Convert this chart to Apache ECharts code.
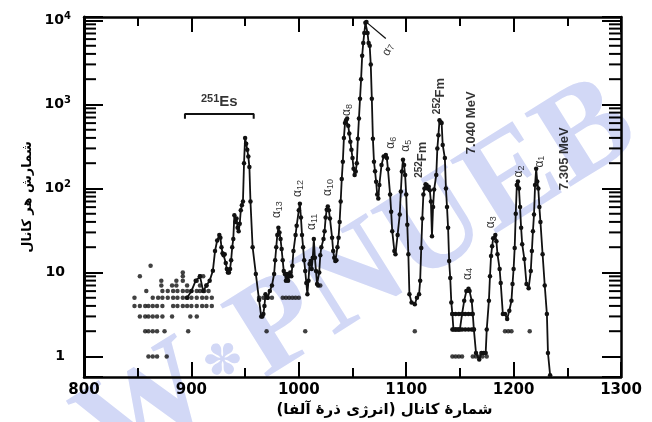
<!DOCTYPE html>
<html>
<head>
<meta charset="utf-8">
<script src="https://cdn.jsdelivr.net/npm/echarts@6/dist/echarts.min.js"></script>
<style>
  html, body { margin: 0; padding: 0; background: #fff; }
  #chart { width: 652px; height: 422px; }
</style>
</head>
<body>
<div id="chart"></div>
<script>
// Alpha spectrum: counts per channel (connected trace)
const spectrumChannels = [
  896, 900, 904, 908, 911, 914, 917, 920, 922, 924, 926, 927, 928, 929, 930, 931, 932, 933, 934, 935,
  936, 937, 938, 939, 940, 941, 942, 943, 944, 945, 946, 947, 948, 949, 950, 951, 952, 953, 954, 955,
  957, 960, 963, 965, 966, 967, 968, 969, 971, 973, 975, 977, 978, 979, 980, 981, 982, 983, 984, 985,
  986, 987, 988, 989, 990, 991, 992, 993, 994, 995, 997, 998, 1000, 1001, 1002, 1003, 1004, 1005, 1006, 1007,
  1008, 1009, 1010, 1011, 1012, 1013, 1014, 1015, 1016, 1017, 1018, 1019, 1020, 1021, 1023, 1024, 1025, 1026, 1027, 1028,
  1029, 1031, 1032, 1033, 1034, 1035, 1036, 1037, 1038, 1039, 1040, 1041, 1042, 1043, 1044, 1045, 1046, 1047, 1048, 1049,
  1050, 1051, 1052, 1053, 1054, 1055, 1056, 1057, 1058, 1059, 1060, 1061, 1062, 1063, 1064, 1065, 1066, 1067, 1068, 1069,
  1070, 1071, 1072, 1073, 1074, 1075, 1077, 1079, 1081, 1082, 1083, 1085, 1086, 1087, 1089, 1090, 1092, 1094, 1095, 1096,
  1097, 1098, 1099, 1100, 1101, 1102, 1103, 1105, 1108, 1110, 1112, 1113, 1114, 1115, 1116, 1117, 1118, 1119, 1120, 1121,
  1122, 1123, 1124, 1125, 1126, 1128, 1129, 1130, 1131, 1132, 1133, 1134, 1136, 1137, 1138, 1139, 1140, 1141, 1142, 1143,
  1144, 1146, 1148, 1150, 1152, 1154, 1156, 1158, 1159, 1161, 1162, 1163, 1165, 1168, 1170, 1172, 1174, 1175, 1177, 1178,
  1179, 1180, 1181, 1183, 1184, 1185, 1187, 1188, 1190, 1192, 1194, 1196, 1198, 1199, 1200, 1201, 1202, 1203, 1204, 1205,
  1206, 1207, 1208, 1210, 1212, 1214, 1216, 1217, 1218, 1219, 1220, 1221, 1222, 1223, 1224, 1225, 1227, 1229, 1231, 1232,
  1234
];
const spectrumCounts = [
  5, 6, 8, 9, 6, 7, 8, 10.5, 18, 24, 28, 26, 20, 17, 16, 16.5, 13, 11, 10, 10,
  11, 14, 20, 25, 48, 40, 44, 34, 31, 38, 55, 63, 70, 200, 400, 340, 290, 240, 180, 70,
  20, 9.6, 4.7, 3, 3, 3.2, 4, 5.5, 5, 6, 7, 9.6, 14, 20, 28, 34, 30, 25, 19, 14,
  10.4, 9.6, 8, 9.6, 8, 9, 10, 9, 12, 18, 28, 36, 55, 66, 45, 28, 20, 14, 10.4, 7.5,
  5.5, 8, 12.6, 13.7, 11, 15, 25, 15, 10.4, 7.3, 7, 10, 16, 20, 25, 31, 45, 56, 61, 55,
  44, 26, 18, 15, 13.7, 14, 20, 26, 40, 70, 130, 208, 400, 600, 650, 680, 560, 450, 360, 290,
  230, 172, 145, 159, 200, 390, 680, 1170, 2000, 3800, 5400, 7100, 9400, 9600, 7100, 5400, 5000, 3000, 1170, 390,
  208, 160, 120, 85, 76, 110, 190, 240, 250, 230, 170, 85, 53, 31, 18, 16.5, 28, 49, 92, 159,
  220, 190, 145, 85, 37, 16.5, 5.5, 4.4, 4.2, 5, 5.5, 8, 19.5, 44, 85, 100, 112, 110, 100, 105,
  95, 70, 27, 60, 97, 145, 300, 430, 650, 620, 600, 330, 230, 100, 60, 34, 13.7, 8.6, 4.4, 3.2,
  2.1, 2.1, 2.1, 2.1, 3.2, 4.6, 6, 6.4, 6, 4.6, 3.2, 2.1, 1.1, 0.92, 1.1, 1.1, 1.1, 2.1, 4.6, 9,
  15.7, 20.5, 25.6, 28, 23.5, 16.5, 11, 7.5, 3.2, 3.2, 2.8, 3.5, 4.6, 7.3, 11, 19.5, 50, 110, 121, 100,
  60, 34, 21.7, 14.5, 7.3, 6.5, 10.4, 18, 31, 49, 110, 172, 121, 100, 60, 40, 16.5, 7, 3.2, 1.1,
  0.6
];

// Unconnected low-count points (background channels and stray counts)
const looseChannels = [
  860, 864, 868, 877,
  857, 860, 864, 868, 875, 897,
  852, 857, 860, 864, 868, 873, 882, 899, 905,
  847, 852, 857, 860, 864, 868, 873, 883, 887, 892, 896, 900, 905, 910, 914, 919,
  847, 864, 869, 873, 878, 883, 887, 892, 896, 900, 905, 910, 914, 919,
  858, 873, 878, 883, 887, 892, 896, 900, 905, 908, 912, 916,
  872, 882, 886, 896, 908, 914,
  872, 886, 892, 905,
  852, 892, 908, 911,
  892, 862,
  970, 1006, 1108, 1192, 1195, 1198, 1215,
  963, 967, 971, 975, 985, 988, 991, 994, 997, 1000,
  1020,
  1143, 1146, 1149, 1152, 1162, 1165, 1168, 1171, 1175
];
const looseCounts = [
  1, 1, 1, 1,
  2, 2, 2, 2, 2, 2,
  3, 3, 3, 3, 3, 3, 3, 3, 3,
  4, 4, 4, 4, 4, 4, 4, 4, 4, 4, 4, 4, 4, 4, 4, 4,
  5, 5, 5, 5, 5, 5, 5, 5, 5, 5, 5, 5, 5, 5,
  6, 6, 6, 6, 6, 6, 6, 6, 6, 6, 6, 6,
  7, 7, 7, 7, 7, 7,
  8, 8, 8, 8,
  9, 9, 9, 9,
  10, 12,
  2, 2, 2, 2, 2, 2, 2,
  5, 5, 5, 5, 5, 5, 5, 5, 5, 5,
  7,
  1, 1, 1, 1, 1, 1, 1, 1, 1
];

// Flat runs at 3 and 2 counts between the 7.040 and 7.305 MeV groups
const upperRunChannels = [1143, 1146, 1149, 1152, 1155, 1158, 1161];
const upperRunCounts = [3.2, 3.2, 3.2, 3.2, 3.2, 3.2, 3.2];
const lowerRunChannels = [1143, 1146, 1149, 1152, 1155, 1158, 1161, 1163];
const lowerRunCounts = [2.1, 2.1, 2.1, 2.1, 2.1, 2.1, 2.1, 2.1];

// 251Es bracket and the alpha-7 pointer
const bracketChannels = [894, 894, 958, 958];
const bracketCounts = [675, 772, 772, 675];
const pointerChannels = [1064, 1081];
const pointerCounts = [9300, 6100];

// Peak annotations
const noteTexts = [
  '{p|251}{b|Es}',
  '{a|α}{i|13}', '{a|α}{i|12}', '{a|α}{i|11}', '{a|α}{i|10}', '{a|α}{i|8}', '{a|α}{i|7}',
  '{a|α}{i|6}', '{a|α}{i|5}', '{q|252}{f|Fm}', '{q|252}{f|Fm}',
  '{m|7.040 MeV}', '{m|7.305 MeV}',
  '{a|α}{i|4}', '{a|α}{i|3}', '{a|α}{i|2}', '{a|α}{i|1}'
];
const noteChannels = [926, 979.5, 999, 1012, 1027, 1044.7, 1083, 1085.6, 1099.5, 1115, 1132, 1161, 1247, 1157, 1178.6, 1204.7, 1224];
const noteCounts = [1070, 56, 100, 40, 103, 861, 4500, 350, 323, 220, 1260, 604, 226, 9.6, 39.6, 159, 209];
const noteAngles = [0, 90, 90, 90, 90, 90, 65, 90, 90, 90, 90, 90, 90, 90, 90, 90, 90];

// Axis ticks
const yDecades = [1, 10, 100, 1000, 10000];
const yDecadeLabels = ['{b|1}{g|}', '{b|10}{g|}', '{b|10}{s|2}', '{b|10}{s|3}', '{b|10}{s|4}'];
const minorMultipliers = [2, 3, 4, 5, 6, 7, 8, 9];

const xMin = 800, xMax = 1300, yMin = 0.57, yMax = 11000;
const INK = '#111';
const WATERMARK = '#d2d8f6';

const pairs = (xs, ys) => xs.map((x, i) => [x, ys[i]]);
const minorTickData = [];
yDecades.slice(0, 4).forEach(d => minorMultipliers.forEach(m => minorTickData.push([xMin, d * m])));

const chart = echarts.init(document.getElementById('chart'), null, { renderer: 'canvas' });

const tickStyle = { color: '#000', width: 2 };
const baseXAxis = {
  type: 'value', min: xMin, max: xMax, interval: 100,
  axisLine: { show: true, onZero: false, lineStyle: { color: '#000', width: 2.5 } },
  axisTick: { show: true, inside: true, length: 15, lineStyle: tickStyle },
  minorTick: { show: true, splitNumber: 2, length: 9, lineStyle: tickStyle },
  splitLine: { show: false }
};
const baseYAxis = {
  type: 'log', logBase: 10, min: yMin, max: yMax,
  axisLine: { show: true, onZero: false, lineStyle: { color: '#000', width: 2.5 } },
  axisTick: { show: true, inside: true, length: 19, lineStyle: tickStyle },
  splitLine: { show: false }
};

// Faint diagonal site mark behind the plot
const markRotation = 0.56;
const markFont = { fontFamily: 'Liberation Serif, DejaVu Serif, serif', fontWeight: 'bold', fontSize: 132, fill: WATERMARK, verticalAlign: 'middle' };

const option = {
  animation: false,
  backgroundColor: '#fff',
  grid: { left: 84, right: 31, top: 17, bottom: 45, containLabel: false, outerBoundsMode: 'none' },
  graphic: [
    { type: 'text', z: -10, silent: true, x: 204, y: 376, rotation: markRotation,
      style: Object.assign({ text: 'W', align: 'right' }, markFont) },
    { type: 'text', z: -10, silent: true, x: 225, y: 363, rotation: markRotation,
      style: { text: '\u273D', fontFamily: 'DejaVu Sans', fontSize: 46, fill: WATERMARK, align: 'center', verticalAlign: 'middle' } },
    { type: 'text', z: -10, silent: true, x: 246, y: 350, rotation: markRotation,
      style: Object.assign({ text: 'PNUEB', align: 'left' }, markFont) }
  ],
  xAxis: [
    Object.assign({}, baseXAxis, {
      position: 'bottom',
      axisLabel: {
        show: true, margin: 6, color: '#000',
        fontFamily: 'DejaVu Sans', fontWeight: 'bold', fontSize: 15,
        formatter: v => String(v)
      },
      name: '\u200Fشمارهٔ کانال (انرژی ذرهٔ آلفا)\u200F',
      nameLocation: 'middle',
      nameGap: 24,
      nameTextStyle: { color: '#000', fontFamily: 'DejaVu Sans', fontWeight: 'bold', fontSize: 15, padding: [0, 0, 0, 64] }
    }),
    Object.assign({}, baseXAxis, { position: 'top', axisLabel: { show: false } })
  ],
  yAxis: [
    Object.assign({}, baseYAxis, {
      position: 'left',
      axisLine: { show: true, onZero: false, lineStyle: { color: '#000', width: 3 } },
      axisLabel: {
        show: true, margin: 13, color: '#000', align: 'right',
        formatter: function (v) {
          const i = yDecades.findIndex(d => Math.abs(d - v) / d < 1e-6);
          return i < 0 ? '' : yDecadeLabels[i];
        },
        rich: {
          b: { fontFamily: 'DejaVu Sans', fontWeight: 'bold', fontSize: 14, color: '#000', lineHeight: 18 },
          s: { fontFamily: 'DejaVu Sans', fontWeight: 'bold', fontSize: 10, color: '#000', verticalAlign: 'top', lineHeight: 10 },
          g: { width: 6 }
        }
      },
      name: 'شمارش هر کانال',
      nameLocation: 'middle',
      nameRotate: 90,
      nameGap: 49,
      nameTextStyle: { color: '#000', fontFamily: 'DejaVu Sans', fontWeight: 'bold', fontSize: 13, padding: [0, 0, 0, 0] }
    }),
    Object.assign({}, baseYAxis, { position: 'right', axisLabel: { show: false } })
  ],
  series: [
    {
      name: 'minor ticks',
      type: 'custom',
      xAxisIndex: 0, yAxisIndex: 0,
      silent: true,
      clip: false,
      z: 5,
      data: minorTickData,
      renderItem: function (params, api) {
        const v = api.value(1);
        const l = api.coord([xMin, v]);
        const r = api.coord([xMax, v]);
        return {
          type: 'group',
          children: [
            { type: 'line', shape: { x1: l[0], y1: l[1], x2: l[0] + 12, y2: l[1] }, style: { stroke: '#000', lineWidth: 2 } },
            { type: 'line', shape: { x1: r[0] - 12, y1: r[1], x2: r[0], y2: r[1] }, style: { stroke: '#000', lineWidth: 2 } }
          ]
        };
      }
    },
    {
      name: 'background points',
      type: 'scatter',
      xAxisIndex: 0, yAxisIndex: 0,
      symbol: 'circle', symbolSize: 4.5,
      itemStyle: { color: INK },
      data: pairs(looseChannels, looseCounts),
      z: 3
    },
    {
      name: 'runs upper',
      type: 'line',
      xAxisIndex: 0, yAxisIndex: 0,
      symbol: 'circle', symbolSize: 4.5, showAllSymbol: true,
      lineStyle: { color: INK, width: 2 }, itemStyle: { color: INK },
      data: pairs(upperRunChannels, upperRunCounts),
      z: 3
    },
    {
      name: 'runs lower',
      type: 'line',
      xAxisIndex: 0, yAxisIndex: 0,
      symbol: 'circle', symbolSize: 4.5, showAllSymbol: true,
      lineStyle: { color: INK, width: 2 }, itemStyle: { color: INK },
      data: pairs(lowerRunChannels, lowerRunCounts),
      z: 3
    },
    {
      name: 'spectrum',
      type: 'line',
      xAxisIndex: 0, yAxisIndex: 0,
      symbol: 'circle', symbolSize: 4.5, showAllSymbol: true,
      sampling: null,
      lineStyle: { color: INK, width: 1.8 }, itemStyle: { color: INK },
      data: pairs(spectrumChannels, spectrumCounts),
      z: 4
    },
    {
      name: 'bracket',
      type: 'line',
      xAxisIndex: 0, yAxisIndex: 0,
      symbol: 'none',
      lineStyle: { color: INK, width: 2 },
      data: pairs(bracketChannels, bracketCounts),
      z: 4
    },
    {
      name: 'pointer',
      type: 'line',
      xAxisIndex: 0, yAxisIndex: 0,
      symbol: 'none',
      lineStyle: { color: INK, width: 1.3 },
      data: pairs(pointerChannels, pointerCounts),
      z: 4
    },
    {
      name: 'notes',
      type: 'scatter',
      xAxisIndex: 0, yAxisIndex: 0,
      symbolSize: 1,
      itemStyle: { color: 'rgba(0,0,0,0)' },
      silent: true,
      z: 6,
      data: noteTexts.map((t, i) => ({
        value: [noteChannels[i], noteCounts[i]],
        label: { formatter: t, rotate: noteAngles[i] }
      })),
      label: {
        show: true,
        position: 'inside',
        align: 'center',
        verticalAlign: 'middle',
        color: '#000',
        rich: {
          a: { fontFamily: 'Liberation Sans', fontSize: 12, color: '#000', lineHeight: 14 },
          i: { fontFamily: 'Liberation Sans', fontSize: 9, color: '#000', verticalAlign: 'bottom', lineHeight: 12, padding: [5, 0, 0, 0] },
          p: { fontFamily: 'Liberation Sans', fontWeight: 'bold', fontSize: 11, color: '#000', verticalAlign: 'top', lineHeight: 11 },
          b: { fontFamily: 'Liberation Sans', fontWeight: 'bold', fontSize: 15, color: '#000', lineHeight: 18 },
          q: { fontFamily: 'Liberation Sans', fontWeight: 'bold', fontSize: 10, color: '#000', verticalAlign: 'top', lineHeight: 10 },
          f: { fontFamily: 'Liberation Sans', fontWeight: 'bold', fontSize: 13, color: '#000', lineHeight: 16 },
          m: { fontFamily: 'Liberation Sans', fontWeight: 'bold', fontSize: 13, color: '#000', lineHeight: 15 }
        }
      }
    }
  ]
};

chart.setOption(option);
</script>
</body>
</html>
